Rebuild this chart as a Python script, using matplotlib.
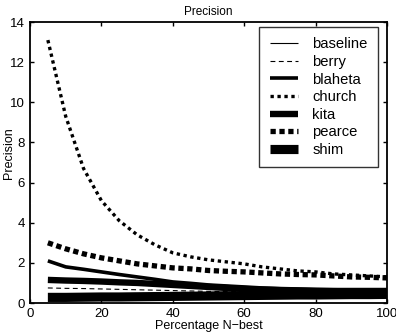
import numpy as np
import matplotlib
matplotlib.use("Agg")
import matplotlib.pyplot as plt

plt.rcParams['font.family'] = ['Liberation Sans', 'DejaVu Sans']
plt.rcParams['lines.scale_dashes'] = False
plt.rcParams['lines.solid_capstyle'] = 'butt'

# percentage of the N-best list
pct = [5, 10, 15, 20, 25, 30, 35, 40, 45, 50,
       55, 60, 65, 70, 75, 80, 85, 90, 95, 100]

baseline = [0.40, 0.40, 0.40, 0.40, 0.40, 0.40, 0.40, 0.40, 0.40, 0.40,
            0.40, 0.40, 0.40, 0.40, 0.40, 0.40, 0.40, 0.40, 0.40, 0.40]
berry = [0.75, 0.73, 0.72, 0.70, 0.68, 0.66, 0.64, 0.62, 0.60, 0.58,
         0.57, 0.56, 0.55, 0.54, 0.53, 0.52, 0.52, 0.52, 0.52, 0.52]
blaheta = [2.10, 1.80, 1.68, 1.55, 1.42, 1.30, 1.18, 1.05, 0.98, 0.90,
           0.85, 0.80, 0.75, 0.72, 0.70, 0.68, 0.66, 0.65, 0.64, 0.63]
church = [13.1, 9.3, 6.7, 5.1, 4.1, 3.4, 2.9, 2.5, 2.3, 2.15,
          2.05, 1.95, 1.80, 1.70, 1.60, 1.55, 1.45, 1.40, 1.35, 1.30]
kita = [1.15, 1.12, 1.10, 1.07, 1.03, 1.00, 0.95, 0.90, 0.85, 0.80,
        0.75, 0.70, 0.67, 0.64, 0.62, 0.60, 0.60, 0.60, 0.60, 0.60]
pearce = [3.00, 2.70, 2.45, 2.25, 2.10, 1.95, 1.85, 1.75, 1.70, 1.62,
          1.58, 1.55, 1.50, 1.45, 1.42, 1.40, 1.35, 1.30, 1.28, 1.25]
shim = [0.28, 0.28, 0.29, 0.30, 0.30, 0.31, 0.32, 0.33, 0.34, 0.35,
        0.36, 0.37, 0.38, 0.39, 0.40, 0.40, 0.41, 0.42, 0.42, 0.43]

fig = plt.figure(figsize=(3.96, 3.34), dpi=100)
ax = fig.add_axes([0.0758, 0.0928, 0.9012, 0.8413])

ax.plot(pct, baseline, color='k', lw=0.8, label='baseline')
ax.plot(pct, berry, color='k', lw=0.8, linestyle=(0, (3.5, 2.5)), label='berry')
ax.plot(pct, blaheta, color='k', lw=2.6, label='blaheta')
ax.plot(pct, church, color='k', lw=2.4, linestyle=(0, (2.4, 2.6)), label='church')
ax.plot(pct, kita, color='k', lw=4.6, label='kita')
ax.plot(pct, pearce, color='k', lw=3.8, linestyle=(0, (3.8, 2.6)), label='pearce')
ax.plot(pct, shim, color='k', lw=6.6, label='shim')

ax.set_xlim(0, 100)
ax.set_ylim(0, 14)
ax.set_xticks(range(0, 101, 20))
ax.set_yticks(range(0, 15, 2))
ax.tick_params(direction='in', top=True, right=True, labelsize=9.5, length=3, width=1)
for s in ax.spines.values():
    s.set_linewidth(1.3)

ax.set_title('Precision', fontsize=8.5, pad=5)
ax.set_xlabel('Percentage N\u2212best', fontsize=9, labelpad=0)
ax.set_ylabel('Precision', fontsize=9)
ax.yaxis.set_label_coords(-0.042, 0.534)

leg = ax.legend(loc='upper right', bbox_to_anchor=(0.975, 0.982), borderaxespad=0,
                fontsize=10.6, frameon=True, fancybox=False, edgecolor='k',
                handlelength=1.9, labelspacing=0.245, handletextpad=1.0,
                borderpad=0.7)
leg.get_frame().set_linewidth(1.0)

fig.savefig('out.png', dpi=100)
